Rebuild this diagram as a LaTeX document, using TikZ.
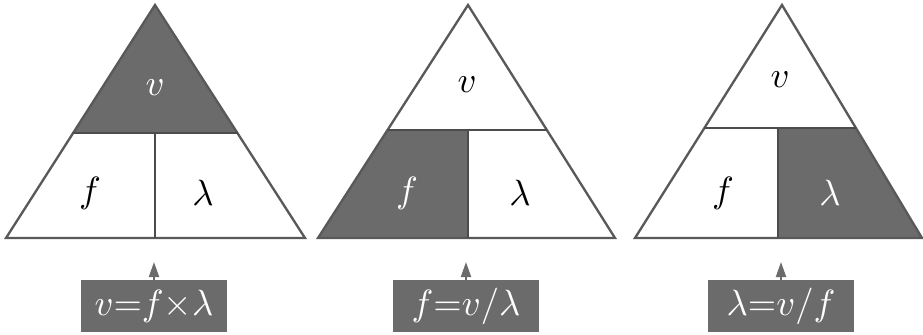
\documentclass[tikz,border=0pt]{standalone}
\usepackage{amsmath}
\usepackage{tikz}
\usetikzlibrary{arrows.meta, calc, positioning}
\definecolor{halftone}{gray}{0.42}
\tikzset{
  tri/.style={draw=black!65, line width=0.7pt, line join=miter},
  part/.style={draw=black!70, line width=0.7pt},
  qty/.style={font=\fontsize{11}{13}\selectfont, inner sep=1pt},
  eqbox/.style={fill=halftone, text=white, minimum width=44pt, minimum height=15.5pt, inner sep=0pt, font=\fontsize{10.5}{13}\selectfont},
  caret/.style={draw=halftone, line width=0.6pt, -{Triangle[length=4.5pt, width=3pt]}}
}
\begin{document}
\begin{tikzpicture}[x=0.3pt, y=-0.3pt]
\useasboundingbox (0,0) rectangle (923,334);
% corners of the three triangles
\coordinate (a1) at (155,5);  \coordinate (l1) at (6,238);   \coordinate (r1) at (305,238);
\coordinate (a2) at (468,5);  \coordinate (l2) at (318,238); \coordinate (r2) at (615,238);
\coordinate (a3) at (782,5);  \coordinate (l3) at (635,238); \coordinate (r3) at (922,238);
% ends of the horizontal dividers
\coordinate (dl1) at ($(a1)!0.55!(l1)$); \coordinate (dr1) at ($(a1)!0.55!(r1)$);
\coordinate (dl2) at ($(a2)!0.536!(l2)$); \coordinate (dr2) at ($(a2)!0.536!(r2)$);
\coordinate (dl3) at ($(a3)!0.528!(l3)$); \coordinate (dr3) at ($(a3)!0.528!(r3)$);
% ends of the vertical dividers
\coordinate (mt1) at (dl1 -| a1); \coordinate (mb1) at (l1 -| a1);
\coordinate (mt2) at (dl2 -| a2); \coordinate (mb2) at (l2 -| a2);
\coordinate (mt3) at ($(dl3 -| a3)+(-4,0)$); \coordinate (mb3) at ($(l3 -| a3)+(-4,0)$);
% the shaded part of each triangle
\fill[halftone] (a1) -- (dl1) -- (dr1) -- cycle;
\fill[halftone] (l2) -- (dl2) -- (mt2) -- (mb2) -- cycle;
\fill[halftone] (mb3) -- (mt3) -- (dr3) -- (r3) -- cycle;
% outlines and dividers
\foreach \i in {1,2,3} {
  \draw[tri] (a\i) -- (l\i) -- (r\i) -- cycle;
  \draw[part] (dl\i) -- (dr\i);
  \draw[part] (mt\i) -- (mb\i);
}
% quantities
\node[qty, text=white] (v1) at (155,88) {$v$};
\node[qty] (f1) at (90,193) {$f$};
\node[qty] (lam1) at (203,193) {$\lambda$};
\node[qty] (v2) at (467,85) {$v$};
\node[qty, text=white] (f2) at (407,193) {$f$};
\node[qty] (lam2) at (520,193) {$\lambda$};
\node[qty] (v3) at (780,80) {$v$};
\node[qty] (f3) at (723,193) {$f$};
\node[qty, text=white] (lam3) at (830,193) {$\lambda$};
% the formula read off each triangle
\node[eqbox] (eq1) at (154,306) {$v{=}f{\times}\lambda$};
\node[eqbox] (eq2) at (466,306) {$f{=}v/\lambda$};
\node[eqbox] (eq3) at (781,306) {$\lambda{=}v/f$};
\coordinate (tip1) at (154,262);
\coordinate (tip2) at (466,262);
\coordinate (tip3) at (781,262);
\draw[caret] (eq1.north) -- (tip1);
\draw[caret] (eq2.north) -- (tip2);
\draw[caret] (eq3.north) -- (tip3);
\end{tikzpicture}
\end{document}
